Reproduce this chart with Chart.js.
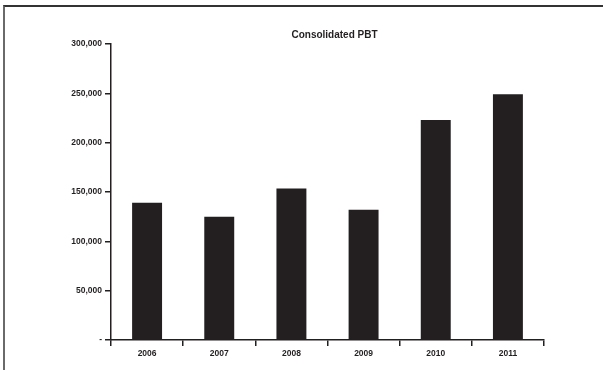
<!DOCTYPE html>
<html>
<head>
<meta charset="utf-8">
<script src="https://cdn.jsdelivr.net/npm/chart.js@4"></script>
<style>
  html, body { margin: 0; padding: 0; background: #fff; overflow: hidden; }
  #wrap { position: relative; width: 604px; height: 370px; }
  #frame { position: absolute; left: 3px; top: 5px; width: 600px; height: 365px;
           border-left: 2px solid #6a6a6a; border-top: 2px solid #333; box-sizing: border-box; }
</style>
</head>
<body>
<div id="wrap">
  <canvas id="pbt-chart" width="604" height="370"></canvas>
  <div id="frame"></div>
</div>
<script>
// values
const years = ['2006', '2007', '2008', '2009', '2010', '2011'];
const pbt = [139000, 125000, 153500, 132000, 223000, 249000];
const yTicks = [0, 50000, 100000, 150000, 200000, 250000, 300000];
const chartTitle = 'Consolidated PBT';

const ink = '#231f20';
Chart.defaults.font.family = '"Liberation Sans", Arial, sans-serif';
Chart.defaults.color = ink;

// title sits over the plot, a little right of its centre
const titlePlugin = {
  id: 'plotTitle',
  afterDraw(chart) {
    const c = chart.ctx, a = chart.chartArea;
    c.save();
    c.font = 'bold 10px "Liberation Sans", Arial, sans-serif';
    c.fillStyle = ink;
    c.textAlign = 'center';
    c.textBaseline = 'middle';
    c.fillText(chartTitle, (a.left + a.right) / 2 + 7, 35);
    c.restore();
  }
};

var ctx = document.getElementById('pbt-chart').getContext('2d');
const config = {
  type: 'bar',
  data: {
    labels: years,
    datasets: [{
      label: chartTitle,
      data: pbt,
      backgroundColor: ink,
      borderWidth: 0,
      categoryPercentage: 0.83,
      barPercentage: 0.5
    }]
  },
  options: {
    responsive: false,
    animation: false,
    layout: { padding: { left: 0, right: 60, top: 44, bottom: 0 } },
    plugins: {
      legend: { display: false },
      tooltip: { enabled: false },
      title: { display: false }
    },
    scales: {
      x: {
        afterFit: function (scale) { scale.height = 30; },
        border: { display: true, color: ink, width: 1.5 },
        grid: { drawOnChartArea: false, color: ink, lineWidth: 1.5, tickLength: 6 },
        ticks: { color: ink, padding: 3, font: { size: 8.5, weight: 'bold' } }
      },
      y: {
        min: 0,
        max: 300000,
        afterFit: function (scale) { scale.width = 111; },
        afterBuildTicks: function (scale) { scale.ticks = yTicks.map(v => ({ value: v })); },
        border: { display: true, color: ink, width: 1.5 },
        grid: { drawOnChartArea: false, color: ink, lineWidth: 1.5, tickLength: 6 },
        ticks: {
          color: ink,
          padding: 3,
          font: { size: 8.5, weight: 'bold' },
          callback: function (v) { return v === 0 ? '-' : v.toLocaleString('en-US'); }
        }
      }
    }
  },
  plugins: [titlePlugin]
};
var pbtChart = new Chart(ctx, config);
</script>
</body>
</html>
